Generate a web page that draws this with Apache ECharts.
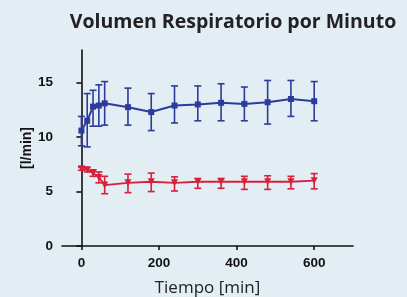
<!DOCTYPE html>
<html>
    <head>
        <meta charset="UTF-8">
        <script src="https://cdn.jsdelivr.net/npm/echarts@6/dist/echarts.min.js"></script>
        <style>
            body { margin: 0; background: #e3edf4; }
        </style>
    </head>
    <body>
        <div id="chart" style="width: 407px; height: 297px;"></div>
        <script>
            // minutes
            const times = [0, 15, 30, 45, 60, 120, 180, 240, 300, 360, 420, 480, 540, 600];
            // blue series: mean, lower, upper
            const blueMean = [10.6, 11.5, 12.8, 12.9, 13.1, 12.75, 12.3, 12.9, 13.0, 13.15, 13.05, 13.2, 13.5, 13.3];
            const blueLow = [9.2, 9.1, 11.0, 11.0, 11.1, 11.1, 10.6, 11.3, 11.5, 11.5, 11.5, 11.2, 11.9, 11.5];
            const blueHigh = [11.9, 14.0, 14.3, 14.8, 15.1, 14.5, 14.0, 14.7, 14.7, 14.9, 14.6, 15.2, 15.2, 15.1];
            // red series
            const redMean = [7.1, 7.0, 6.7, 6.3, 5.6, 5.8, 5.9, 5.8, 5.9, 5.9, 5.9, 5.9, 5.9, 6.0];
            const redLow = [6.95, 6.8, 6.4, 5.8, 4.8, 4.9, 5.0, 5.05, 5.3, 5.3, 5.2, 5.2, 5.25, 5.25];
            const redHigh = [7.25, 7.2, 7.0, 6.8, 6.4, 6.6, 6.7, 6.35, 6.2, 6.2, 6.4, 6.45, 6.4, 6.65];
            const xTicks = [0, 200, 400, 600];

            const blue = '#2c3b9c';
            const red = '#d8203a';

            function errorSeries(low, high, color) {
                return {
                    type: 'custom',
                    data: times.map((t, i) => [t, low[i], high[i]]),
                    z: 1,
                    renderItem: function (params, api) {
                        const lo = api.coord([api.value(0), api.value(1)]);
                        const hi = api.coord([api.value(0), api.value(2)]);
                        const w = 3.5;
                        const style = { stroke: color, lineWidth: 1.6 };
                        return {
                            type: 'group',
                            children: [
                                { type: 'line', shape: { x1: lo[0], y1: lo[1], x2: hi[0], y2: hi[1] }, style: style },
                                { type: 'line', shape: { x1: lo[0] - w, y1: lo[1], x2: lo[0] + w, y2: lo[1] }, style: style },
                                { type: 'line', shape: { x1: hi[0] - w, y1: hi[1], x2: hi[0] + w, y2: hi[1] }, style: style }
                            ]
                        };
                    }
                };
            }

            const chart = echarts.init(document.getElementById('chart'));
            chart.setOption({
                backgroundColor: '#e3edf4',
                animation: false,
                title: {
                    text: 'Volumen Respiratorio por Minuto',
                    left: 228,
                    textAlign: 'center',
                    top: 7,
                    textStyle: { fontFamily: 'Open Sans', fontWeight: 'bold', fontSize: 19.5, color: '#222' }
                },
                grid: { left: 62, top: 50, right: 54, bottom: 51, containLabel: false, outerBoundsMode: 'none' },
                xAxis: {
                    type: 'value',
                    min: -50,
                    max: 700,
                    name: 'Tiempo [min]',
                    nameLocation: 'middle',
                    nameGap: 34,
                    nameMoveOverlap: false,
                    nameTextStyle: { fontFamily: 'Open Sans', fontSize: 17, color: '#222' },
                    splitLine: { show: false },
                    axisLine: { onZero: false, lineStyle: { color: '#111', width: 1.6 } },
                    axisTick: { show: true, customValues: xTicks, length: 4, lineStyle: { color: '#111', width: 1.6 } },
                    axisLabel: {
                        customValues: xTicks,
                        margin: 10,
                        fontFamily: 'Liberation Sans',
                        fontWeight: 'bold',
                        fontSize: 13.5,
                        color: '#111'
                    }
                },
                yAxis: {
                    type: 'value',
                    min: 0,
                    max: 18,
                    interval: 5,
                    name: '[l/min]',
                    nameLocation: 'middle',
                    nameRotate: 90,
                    nameGap: 28,
                    nameMoveOverlap: false,
                    nameTextStyle: { fontFamily: 'Liberation Sans', fontWeight: 'bold', fontSize: 14, color: '#111' },
                    splitLine: { show: false },
                    axisLine: { show: true, lineStyle: { color: '#111', width: 1.6 } },
                    axisTick: { show: true, length: 5, lineStyle: { color: '#111', width: 1.6 } },
                    axisLabel: {
                        showMaxLabel: false,
                        margin: 9,
                        fontFamily: 'Liberation Sans',
                        fontWeight: 'bold',
                        fontSize: 13.5,
                        color: '#111'
                    }
                },
                series: [
                    errorSeries(blueLow, blueHigh, blue),
                    errorSeries(redLow, redHigh, red),
                    {
                        type: 'line',
                        data: times.map((t, i) => [t, blueMean[i]]),
                        symbol: 'rect',
                        symbolSize: 6,
                        itemStyle: { color: blue },
                        lineStyle: { color: blue, width: 2 },
                        z: 3
                    },
                    {
                        type: 'line',
                        data: times.map((t, i) => [t, redMean[i]]),
                        symbol: 'triangle',
                        symbolRotate: 180,
                        symbolSize: 7,
                        itemStyle: { color: red },
                        lineStyle: { color: red, width: 1.8 },
                        z: 3
                    }
                ]
            });
        </script>
    </body>
</html>
